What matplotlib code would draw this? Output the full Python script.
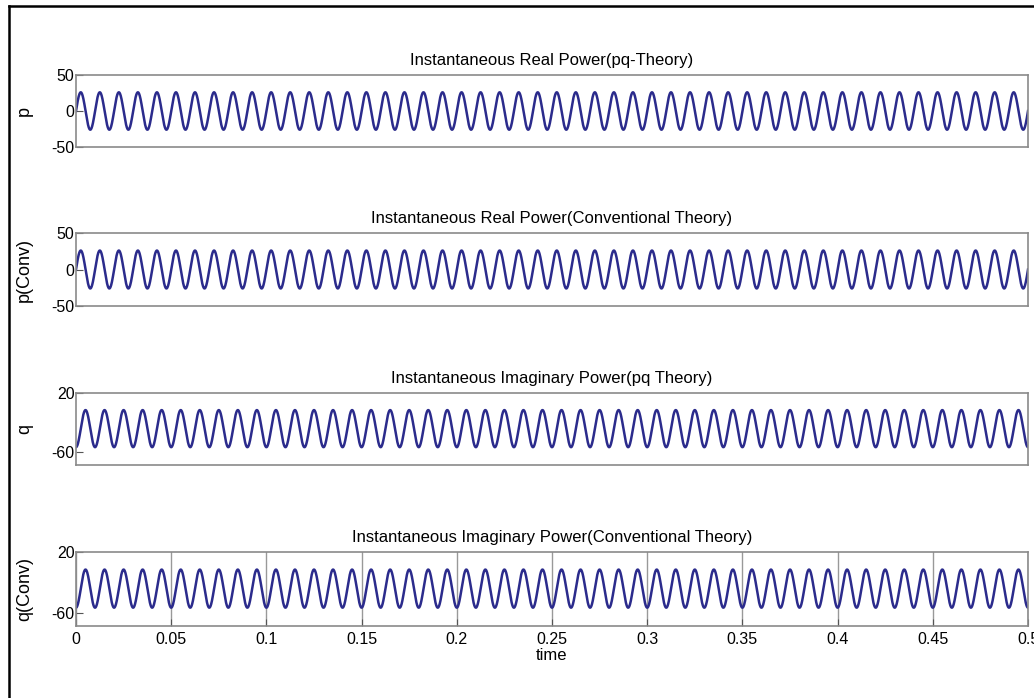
import numpy as np
from matplotlib import pyplot as plt
from matplotlib.lines import Line2D

# signal parameters
t_end = 0.5
freq_hz = 100
n_samples = 5001

titles = ["Instantaneous Real Power(pq-Theory)",
          "Instantaneous Real Power(Conventional Theory)",
          "Instantaneous Imaginary Power(pq Theory)",
          "Instantaneous Imaginary Power(Conventional Theory)"]
ylabels = ["p", "p(Conv)", "q", "q(Conv)"]
offsets = [0, 0, -28, -28]
amplitudes = [26, 26, 25, 25]
phases = [0, 0, -np.pi / 2, -np.pi / 2]
ylims = [(-50, 50), (-50, 50), (-77, 20), (-77, 20)]
yticks = [[-50, 0, 50], [-50, 0, 50], [-60, 20], [-60, 20]]
xticks = [0, 0.05, 0.1, 0.15, 0.2, 0.25, 0.3, 0.35, 0.4, 0.45, 0.5]
xticklabels = ["0", "0.05", "0.1", "0.15", "0.2", "0.25", "0.3", "0.35", "0.4", "0.45", "0.5"]

# axes boxes in pixels: top, bottom
boxes = [(75, 147), (233, 306), (393, 465), (552, 626)]

W, H = 1034, 698
plt.rcParams['font.family'] = ['Liberation Sans', 'DejaVu Sans']
plt.rcParams['font.size'] = 11.5
plt.rcParams['axes.unicode_minus'] = False

fig = plt.figure(figsize=(W / 100, H / 100), dpi=100)
t = np.linspace(0, t_end, n_samples)

for i in range(4):
    top, bot = boxes[i]
    ax = fig.add_axes([76 / W, 1 - bot / H, (1028 - 76) / W, (bot - top) / H])
    y = offsets[i] + amplitudes[i] * np.sin(2 * np.pi * freq_hz * t + phases[i])
    ax.plot(t, y, color='#2b2b8c', linewidth=1.8)
    ax.set_xlim(0, t_end)
    ax.set_ylim(*ylims[i])
    ax.set_yticks(yticks[i])
    ax.set_title(titles[i], pad=7, fontsize=12)
    ax.set_ylabel(ylabels[i], fontsize=13)
    ax.yaxis.set_label_coords(-0.045, 0.5)
    for s in ax.spines.values():
        s.set_color('#8a8a8a')
        s.set_linewidth(1.2)
    ax.tick_params(direction='in', length=5, color='#555555', pad=1)
    if i < 3:
        ax.set_xticks([])
    else:
        ax.set_xticks(xticks)
        ax.set_xticklabels(xticklabels)
        ax.tick_params(axis='x', pad=4)
        ax.grid(True, axis='x', color='#999999', linewidth=1)
        ax.set_xlabel("time", fontsize=12, labelpad=1)

# black frame on the left and top
fig.add_artist(Line2D([9 / W, 9 / W], [0, 1 - 6 / H], color='black', linewidth=1.8))
fig.add_artist(Line2D([9 / W, 1], [1 - 6 / H, 1 - 6 / H], color='black', linewidth=1.8))

plt.savefig("out.png", dpi=100)
